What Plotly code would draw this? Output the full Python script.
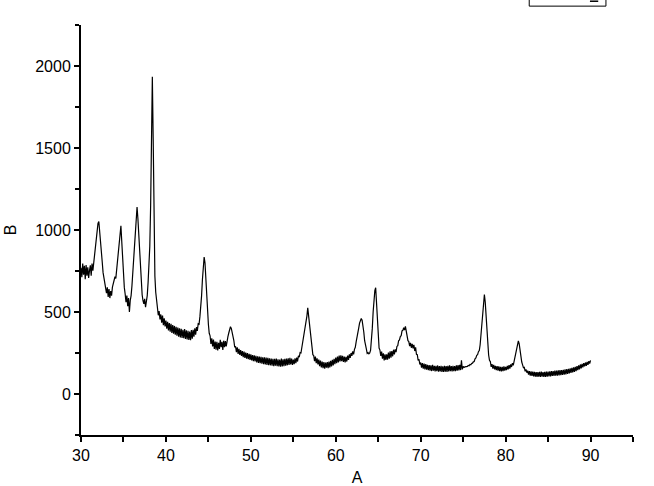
import numpy as np
import plotly.graph_objects as go

# Intensités lues sur le diffractogramme, pas de 0.1 degré (2θ de 30.0 à 90.0)
y_30s = [
    770, 712, 795, 728, 782, 700, 786, 722, 772, 708,
    752, 785, 722, 796, 752, 808, 835, 895, 955, 1012,
    1040, 1052, 1000, 945, 870, 805, 740, 705, 660, 655,
    615, 650, 592, 640, 585, 628, 600, 652, 670, 700,
    715, 705, 765, 775, 845, 915, 1000, 1025, 930, 820,
    720, 650, 610, 560, 600, 535, 585, 500, 570, 600,
    660, 730, 800, 900, 990, 1060, 1140, 1070, 960, 840,
    745, 655, 605, 570, 550, 580, 530, 565, 600, 680,
    780, 900, 1150, 1680, 1935, 1560, 980, 720, 620, 560,
    525, 480, 505, 455, 485, 435, 478, 420, 462, 412,
]
y_40s = [
    448, 398, 440, 388, 432, 380, 428, 372, 420, 368,
    415, 362, 410, 355, 405, 350, 400, 345, 398, 342,
    392, 340, 396, 335, 388, 332, 385, 330, 380, 328,
    390, 338, 392, 350, 400, 362, 408, 385, 428, 425,
    470, 520, 600, 700, 790, 835, 800, 690, 560, 470,
    425, 370, 355, 305, 340, 290, 332, 275, 320, 270,
    318, 265, 312, 275, 330, 285, 318, 268, 325, 285,
    322, 290, 330, 350, 372, 395, 410, 400, 380, 345,
    325, 285, 290, 255, 285, 245, 275, 238, 268, 232,
    262, 225, 258, 220, 252, 215, 250, 212, 245, 208,
]
y_50s = [
    242, 205, 238, 200, 236, 198, 232, 192, 230, 190,
    228, 188, 226, 185, 224, 182, 224, 180, 222, 178,
    220, 176, 218, 175, 216, 172, 214, 170, 214, 172,
    216, 170, 212, 168, 210, 166, 216, 168, 212, 170,
    214, 172, 216, 175, 218, 178, 220, 180, 216, 178,
    210, 182, 218, 188, 222, 198, 232, 225, 252, 250,
    280, 300, 330, 360, 400, 440, 475, 525, 470, 450,
    400, 330, 285, 240, 235, 200, 228, 188, 218, 180,
    210, 170, 204, 162, 198, 158, 194, 155, 192, 160,
    194, 158, 198, 162, 202, 168, 208, 175, 215, 182,
]
y_60s = [
    222, 188, 228, 192, 234, 198, 236, 200, 232, 195,
    228, 192, 226, 198, 234, 208, 242, 220, 250, 232,
    260, 242, 272, 285, 318, 340, 378, 402, 432, 442,
    460, 450, 422, 378, 325, 285, 275, 248, 252, 245,
    250, 268, 325, 400, 500, 590, 630, 648, 540, 420,
    340, 280, 268, 232, 258, 215, 248, 205, 242, 208,
    242, 210, 252, 215, 260, 222, 262, 230, 270, 242,
    272, 255, 290, 295, 325, 330, 350, 355, 385, 388,
    405, 390, 412, 378, 360, 325, 320, 292, 312, 282,
    305, 278, 300, 262, 285, 242, 240, 205, 212, 180,
]
y_70s = [
    192, 160, 188, 155, 185, 150, 182, 148, 178, 145,
    176, 142, 174, 140, 178, 142, 172, 138, 172, 140,
    174, 136, 170, 138, 172, 135, 168, 134, 172, 136,
    170, 135, 172, 138, 175, 140, 170, 137, 172, 140,
    170, 140, 174, 142, 176, 144, 178, 146, 205, 150,
    168, 162, 165, 166, 170, 168, 174, 172, 180, 178,
    186, 188, 196, 198, 215, 220, 236, 240, 258, 265,
    300, 360, 440, 530, 590, 607, 560, 460, 350, 270,
    238, 205, 198, 165, 182, 155, 178, 150, 172, 146,
    170, 142, 168, 140, 166, 138, 166, 140, 168, 142,
]
y_80s = [
    166, 145, 172, 150, 176, 155, 180, 165, 188, 175,
    200, 215, 240, 270, 300, 324, 305, 260, 220, 195,
    178, 160, 162, 138, 150, 130, 142, 118, 140, 112,
    138, 110, 136, 108, 135, 106, 134, 105, 134, 106,
    135, 105, 136, 106, 134, 104, 135, 105, 136, 106,
    137, 107, 138, 108, 139, 110, 140, 110, 142, 112,
    142, 112, 144, 114, 145, 115, 146, 116, 148, 118,
    150, 120, 152, 122, 154, 125, 156, 128, 160, 132,
    162, 135, 166, 140, 170, 145, 175, 150, 180, 156,
    184, 162, 188, 168, 192, 172, 196, 178, 200, 185,
    205,
]

y_ticks = [0, 500, 1000, 1500, 2000]
x_ticks = [30, 40, 50, 60, 70, 80, 90]

FONT = 'Arial, Liberation Sans, sans-serif'


def plot_xrd():
    """Diffractogramme (B en fonction de A) dans le style Origin."""
    intensity = y_30s + y_40s + y_50s + y_60s + y_70s + y_80s
    two_theta = np.round(30 + 0.1 * np.arange(len(intensity)), 1)

    fig = go.Figure()

    fig.add_trace(go.Scatter(
        x=two_theta,
        y=intensity,
        mode='lines',
        name='B',
        line=dict(color='black', width=1.2),
        showlegend=False,
    ))

    axis_common = dict(
        showline=True,
        linecolor='black',
        linewidth=2,
        showgrid=False,
        zeroline=False,
        ticks='outside',
        ticklen=5,
        tickwidth=1.5,
        tickcolor='black',
        mirror=False,
        automargin=False,
        tickfont=dict(family=FONT, size=16, color='black'),
    )

    fig.update_xaxes(
        range=[30, 95],
        tickvals=x_ticks,
        minor=dict(dtick=5, tick0=30, ticks='outside', ticklen=5,
                   tickwidth=1.5, tickcolor='black'),
        title=dict(text='A', font=dict(family=FONT, size=16, color='black')),
        **axis_common
    )
    fig.update_yaxes(
        range=[-250, 2250],
        tickvals=y_ticks,
        minor=dict(dtick=250, tick0=0, ticks='outside', ticklen=4,
                   tickwidth=1.5, tickcolor='black'),
        title=dict(text='B', font=dict(family=FONT, size=16, color='black')),
        **axis_common
    )

    # Cadre de légende coupé en haut à droite
    fig.add_shape(type='rect', xref='paper', yref='paper',
                  x0=0.812, x1=0.951, y0=1.046, y1=1.10,
                  line=dict(color='black', width=1), fillcolor='white')
    fig.add_shape(type='line', xref='paper', yref='paper',
                  x0=0.922, x1=0.937, y0=1.058, y1=1.058,
                  line=dict(color='black', width=1.5))

    fig.update_layout(
        width=654,
        height=486,
        margin=dict(l=81, r=21, t=25, b=51),
        plot_bgcolor='white',
        paper_bgcolor='white',
        font=dict(family=FONT, size=16, color='black'),
    )

    return fig


fig = plot_xrd()
# pas de marge de page, pour que la figure commence au coin de la fenêtre
fig.write_html("out.html",
               config={'displayModeBar': False},
               post_script="document.body.style.margin = '0';")
